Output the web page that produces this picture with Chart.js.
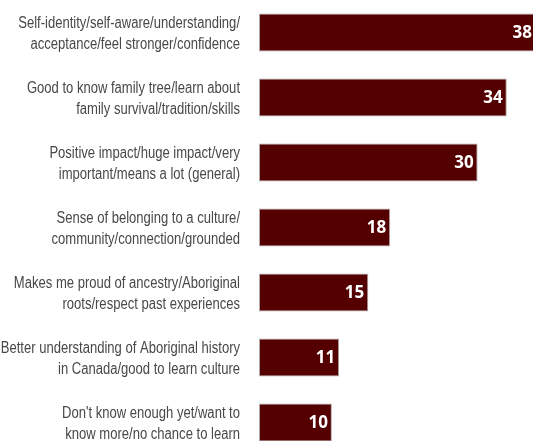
<!DOCTYPE html>
<html>
<head>
<meta charset="utf-8">
<script src="https://cdn.jsdelivr.net/npm/chart.js@4"></script>
<style>
  html, body { margin: 0; padding: 0; background: #fff; overflow: hidden; }
  #wrap { position: relative; width: 533px; height: 455px; }
</style>
</head>
<body>
<div id="wrap"><canvas id="chartReasons"></canvas></div>
<script>
// categories (two lines each, as in the picture)
const categories = [
    ['Self-identity/self-aware/understanding/', 'acceptance/feel stronger/confidence'],
    ['Good to know family tree/learn about', 'family survival/tradition/skills'],
    ['Positive impact/huge impact/very', 'important/means a lot (general)'],
    ['Sense of belonging to a culture/', 'community/connection/grounded'],
    ['Makes me proud of ancestry/Aboriginal', 'roots/respect past experiences'],
    ['Better understanding of Aboriginal history', 'in Canada/good to learn culture'],
    ["Don't know enough yet/want to", 'know more/no chance to learn']
];
const values = [38, 34, 30, 18, 15, 11, 10];

// --- category text, condensed look (no narrow font installed) ---
const categoryLabels = {
    id: 'categoryLabels',
    afterDraw(chart) {
        const ctx = chart.ctx;
        const yScale = chart.scales.y;
        const squeeze = 0.815;
        const rightX = 240;
        const lineH = 21;
        ctx.save();
        ctx.fillStyle = '#484848';
        ctx.font = '16px "Liberation Sans"';
        ctx.textAlign = 'right';
        ctx.textBaseline = 'middle';
        categories.forEach((lines, i) => {
            const yc = yScale.getPixelForValue(i) + 2;
            lines.forEach((txt, k) => {
                const y = yc + (k - (lines.length - 1) / 2) * lineH;
                ctx.save();
                ctx.translate(rightX, y);
                ctx.scale(squeeze, 1);
                ctx.fillText(txt, 0, 0);
                ctx.restore();
            });
        });
        ctx.restore();
    }
};

// --- white numbers inside the bar end ---
const valueLabels = {
    id: 'valueLabels',
    afterDatasetsDraw(chart) {
        const ctx = chart.ctx;
        const meta = chart.getDatasetMeta(0);
        ctx.save();
        ctx.fillStyle = '#ffffff';
        ctx.font = 'bold 17px "Open Sans"';
        ctx.textAlign = 'right';
        ctx.textBaseline = 'middle';
        meta.data.forEach((bar, i) => {
            ctx.fillText(String(values[i]), bar.x - 4, bar.y + 1);
        });
        ctx.restore();
    }
};

const ctxReasons = document.getElementById('chartReasons').getContext('2d');
new Chart(ctxReasons, {
    type: 'bar',
    data: {
        labels: categories,
        datasets: [{
            data: values,
            backgroundColor: '#550000',   // maroon tua
            borderColor: '#b0a8a8',       // garis tepi abu
            borderWidth: 1,
            borderSkipped: false,
            barPercentage: 0.585,
            categoryPercentage: 1.0,
            clip: false
        }]
    },
    options: {
        indexAxis: 'y',
        responsive: true,
        maintainAspectRatio: false,
        animation: false,
        layout: { padding: 0 },
        plugins: {
            legend: { display: false },
            tooltip: { enabled: false }
        },
        scales: {
            x: {
                display: false,
                min: 0,
                max: 37.6
            },
            y: {
                grid: { display: false, drawTicks: false },
                border: { display: false },
                ticks: { display: false },
                afterFit(scale) {
                    scale.width = 259;
                    scale.paddingTop = 0;
                    scale.paddingBottom = 0;
                }
            }
        }
    },
    plugins: [valueLabels, categoryLabels]
});
</script>
</body>
</html>
